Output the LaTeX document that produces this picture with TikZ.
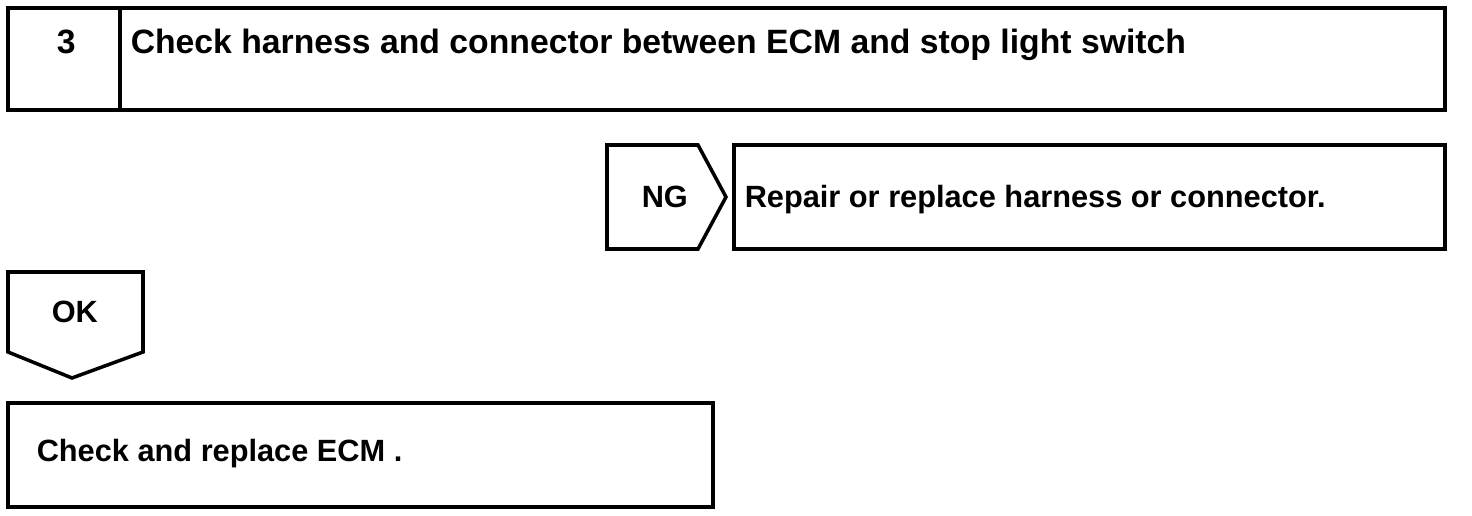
\documentclass[tikz,border=0pt]{standalone}
\usepackage{fontspec}
\setmainfont{Liberation Sans}

\def\lw{2pt}

\begin{document}
\begin{tikzpicture}[x=0.02cm, y=-0.02cm, line width=\lw,
    every node/.style={inner sep=0pt, anchor=base west, font=\bfseries\fontsize{17.5}{20}\selectfont},
    titletext/.style={font=\bfseries\fontsize{19.2}{22}\selectfont}]
      \useasboundingbox (0,0) rectangle (1472,516);
      % step header
      \draw (8,8) rectangle (1445,110);
      \draw (120,8) -- (120,110);
      \node[titletext] (num) at (55,54) {3};
      \node[titletext] (title) at (129,54) {Check harness and connector between ECM and stop light switch};
      % NG branch
      \draw (607,145) -- (698,145) -- (726,197) -- (698,249) -- (607,249) -- cycle;
      \node (ng) at (640,208) {NG};
      \draw (734,145) rectangle (1445,249);
      \node (repair) at (743,208) {Repair or replace harness or connector.};
      % OK branch
      \draw (8,272) -- (143,272) -- (143,352) -- (72,378) -- (8,352) -- cycle;
      \node (ok) at (50,323) {OK};
      \draw (8,403) rectangle (713,507);
      \node (ecm) at (35,462) {Check and replace ECM .};
    \end{tikzpicture}
\end{document}
